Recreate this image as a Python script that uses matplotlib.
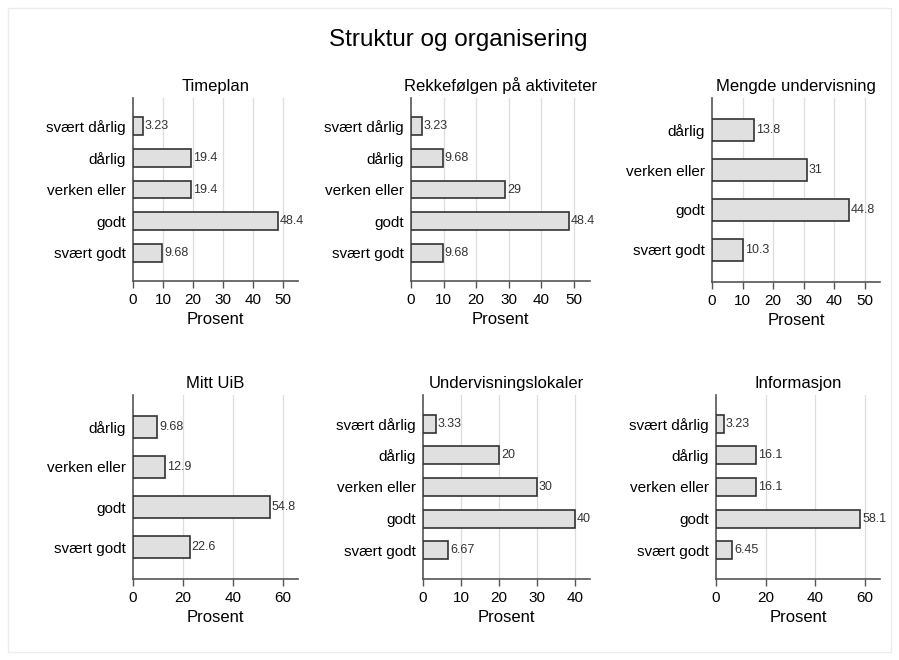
import numpy as np
import matplotlib.pyplot as plt
from matplotlib.patches import Rectangle

plt.rcParams['font.family'] = ['Liberation Sans', 'DejaVu Sans']

W, H = 899, 660

titles = ["Timeplan", "Rekkefølgen på aktiviteter", "Mengde undervisning",
          "Mitt UiB", "Undervisningslokaler", "Informasjon"]

cats5 = ["svært dårlig", "dårlig", "verken eller", "godt", "svært godt"]
cats4 = ["dårlig", "verken eller", "godt", "svært godt"]

timeplan = [3.23, 19.4, 19.4, 48.4, 9.68]
rekkefolgen = [3.23, 9.68, 29, 48.4, 9.68]
mengde = [13.8, 31, 44.8, 10.3]
mitt_uib = [9.68, 12.9, 54.8, 22.6]
lokaler = [3.33, 20, 30, 40, 6.67]
informasjon = [3.23, 16.1, 16.1, 58.1, 6.45]

values = [timeplan, rekkefolgen, mengde, mitt_uib, lokaler, informasjon]
categories = [cats5, cats5, cats4, cats4, cats5, cats5]
xmax = [55, 55, 55, 66, 44, 66]
xstep = [10, 10, 10, 20, 10, 20]
xtop = [50, 50, 50, 60, 40, 60]

# axes boxes in pixels: left, top, right, bottom
boxes = [(133, 98, 298, 281), (411, 98, 590, 281), (712, 98, 880, 282),
         (133, 395, 298, 579), (423, 395, 590, 579), (716, 395, 880, 579)]

fig = plt.figure(figsize=(W / 100, H / 100), dpi=100)
fig.patches.append(Rectangle((8 / W, 8 / H), 883 / W, 644 / H, transform=fig.transFigure,
                             fill=False, edgecolor='#ececec', linewidth=1))

fig.text(458 / W, 1 - 40 / H, "Struktur og organisering", ha='center', va='center', fontsize=17.5)

for i in range(6):
    l, t, r, b = boxes[i]
    ax = fig.add_axes([l / W, 1 - b / H, (r - l) / W, (b - t) / H])
    vals = values[i]
    cats = categories[i]
    n = len(cats)
    pos = np.arange(1, n + 1)
    ax.barh(pos, vals, height=0.57, color='#e0e0e0', edgecolor='#333333', linewidth=1.2, zorder=3)
    for p, v in zip(pos, vals):
        ax.text(v + xmax[i] * 0.012, p, '%.3g' % v, va='center', ha='left', fontsize=9, color='#333333', zorder=4)
    if n == 5:
        ax.set_ylim(5.9, 0.1)
    else:
        ax.set_ylim(4.8, 0.2)
    ax.set_xlim(0, xmax[i])
    ax.set_yticks(pos)
    ax.set_yticklabels(cats, fontsize=11)
    ax.set_xticks(np.arange(0, xtop[i] + 1, xstep[i]))
    ax.tick_params(axis='x', labelsize=11, length=5, color='#555555', width=1)
    ax.tick_params(axis='y', length=0, pad=5)
    for xv in np.arange(xstep[i], xtop[i] + 1, xstep[i]):
        ax.axvline(xv, color='#dddddd', linewidth=0.9, zorder=1)
    for s in ['top', 'right']:
        ax.spines[s].set_visible(False)
    for s in ['left', 'bottom']:
        ax.spines[s].set_color('#555555')
        ax.spines[s].set_linewidth(1.2)
    ax.set_title(titles[i], fontsize=12, pad=5)
    ax.set_xlabel("Prosent", fontsize=12, labelpad=4)

fig.savefig("out.png", dpi=100)
